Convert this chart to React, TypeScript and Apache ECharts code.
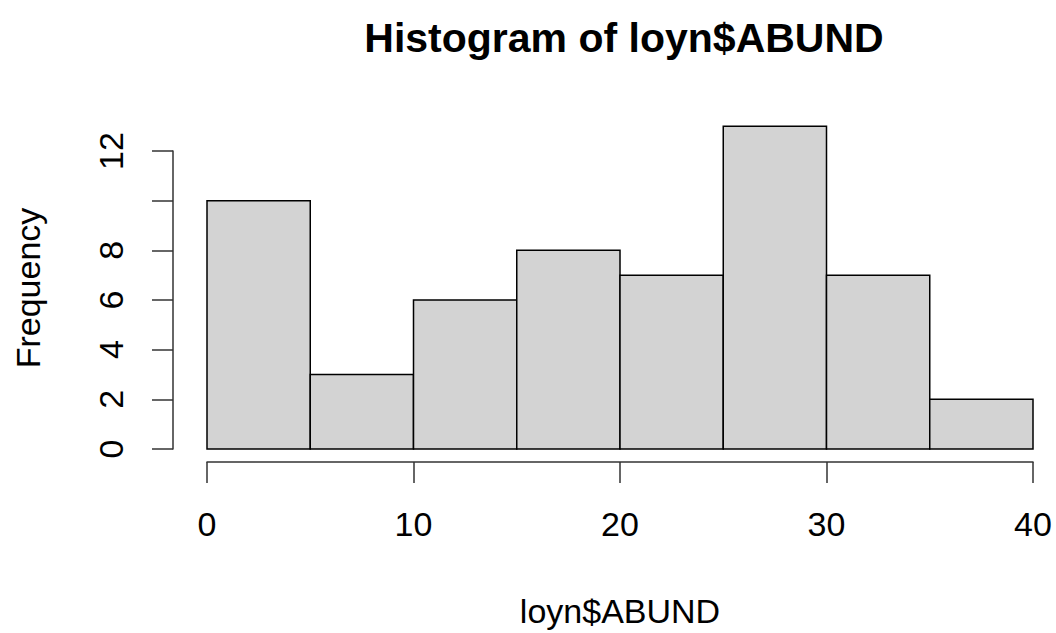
import React, { useEffect, useRef } from "react";
import * as echarts from "echarts";

const binStarts = [0, 5, 10, 15, 20, 25, 30, 35];
const binEnds = [5, 10, 15, 20, 25, 30, 35, 40];
const frequencies = [10, 3, 6, 8, 7, 13, 7, 2];
const yTickLabels = ["0", "2", "4", "6", "8", "", "12"];
const titleText = "Histogram of loyn$ABUND";
const xLabel = "loyn$ABUND";
const yLabel = "Frequency";

const FONT = "'Liberation Sans', Arial, Helvetica, sans-serif";

export default function App() {
  const ref = useRef<HTMLDivElement>(null);
  useEffect(() => {
    document.body.style.margin = "0";
    const chart = echarts.init(ref.current!, null, { renderer: "svg" });
    const data = binStarts.map((s, i) => [s, binEnds[i], frequencies[i]]);
    chart.setOption({
      animation: false,
      backgroundColor: "#ffffff",
      title: {
        text: titleText,
        left: 619,
        top: 12,
        textAlign: "center",
        textStyle: { fontFamily: FONT, fontSize: 41, fontWeight: "bold", color: "#000" },
      },
      grid: { left: 207, right: 23, top: 151, bottom: 184, containLabel: false },
      xAxis: {
        type: "value",
        min: 0,
        max: 40,
        interval: 10,
        offset: 13,
        name: xLabel,
        nameLocation: "middle",
        nameGap: 132,
        nameTextStyle: { fontFamily: FONT, fontSize: 34, color: "#000" },
        splitLine: { show: false },
        axisLine: { show: true, onZero: false, lineStyle: { color: "#333", width: 1.5 } },
        axisTick: { show: true, length: 21, lineStyle: { color: "#333", width: 1.5 } },
        axisLabel: { fontFamily: FONT, fontSize: 34, color: "#000", margin: 45 },
      },
      yAxis: {
        type: "value",
        min: 0,
        max: 12,
        interval: 2,
        offset: 34,
        splitLine: { show: false },
        axisLine: { show: true, onZero: false, lineStyle: { color: "#333", width: 1.5 } },
        axisTick: { show: true, length: 21, lineStyle: { color: "#333", width: 1.5 } },
        axisLabel: {
          fontFamily: FONT,
          fontSize: 34,
          color: "#000",
          rotate: 90,
          margin: 45,
          formatter: (v: number) => yTickLabels[Math.round(v / 2)] ?? "",
        },
      },
      graphic: [
        {
          type: "text",
          x: 28,
          y: 288,
          rotation: Math.PI / 2,
          style: {
            text: yLabel,
            fontFamily: FONT,
            fontSize: 34,
            fill: "#000",
            align: "center",
            verticalAlign: "middle",
          },
        },
      ],
      series: [
        {
          type: "custom",
          clip: false,
          encode: { x: [0, 1], y: 2 },
          data,
          renderItem: (params: any, api: any) => {
            const x0 = api.value(0);
            const x1 = api.value(1);
            const y = api.value(2);
            const p0 = api.coord([x0, y]);
            const p1 = api.coord([x1, 0]);
            return {
              type: "rect",
              shape: { x: p0[0], y: p0[1], width: p1[0] - p0[0], height: p1[1] - p0[1] },
              style: { fill: "#d3d3d3", stroke: "#000", lineWidth: 1.5 },
            };
          },
        },
      ],
    });
    return () => chart.dispose();
  }, []);
  return <div ref={ref} style={{ position: "fixed", left: 0, top: 0, width: 1056, height: 633 }} />;
}
